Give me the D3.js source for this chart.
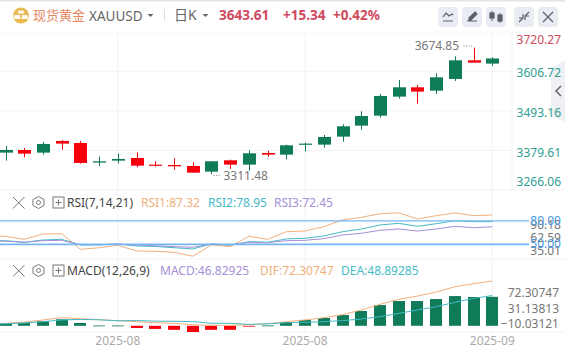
<!DOCTYPE html>
<html>
<head>
<meta charset="utf-8">
<script src="https://d3js.org/d3.v7.min.js"></script>
<style>
html, body { margin: 0; padding: 0; background: #fff; }
text { font-family: "Noto Sans", "Noto Sans CJK SC", sans-serif; }
</style>
</head>
<body>
<div id="chart"></div>
<script>
// first entry of every series is the bar just off the left edge
var opens  = [3370,3372.9,3380.6,3372.9,3406.4,3400.7,3344.2,3349.9,3357.6,3338.4,3337.4,3334.6,3318.3,3350.9,3338.4,3371.9,3367.2,3395.9,3395.9,3418.9,3450.5,3479.3,3533.9,3560.7,3551.1,3584.7,3638.3,3628.8];
var closes = [3375,3380.6,3370.0,3397.8,3398.8,3343.2,3348.0,3354.7,3335.5,3335.5,3333.6,3315.4,3348.0,3338.4,3371.0,3367.2,3394.0,3398.8,3417.9,3448.6,3478.3,3535.8,3560.7,3548.3,3589.5,3638.3,3631.6,3643.61];
var highs  = [3385,3392.1,3386.3,3403.6,3409.3,3406.4,3361.4,3370.0,3373.9,3348.0,3356.6,3345.1,3348.0,3352.8,3379.6,3378.6,3395.9,3401.6,3423.7,3454.4,3491.7,3541.6,3581.8,3567.4,3601.0,3649.8,3674.85,3647.0];
var lows   = [3360,3349.9,3359.5,3367.2,3381.5,3341.3,3334.6,3342.2,3330.7,3332.6,3324.0,3314.4,3311.48,3325.9,3321.2,3361.4,3353.7,3375.8,3387.3,3404.5,3439.0,3473.5,3528.1,3513.8,3541.6,3578.9,3631.6,3622.1];

var rsi1 = [61,60.3,56.5,63.2,63.6,43.8,45.8,48.9,41.6,41.2,40.0,35.01,49.3,47.1,60.3,56.5,66.1,67,72.5,81,84.4,89,90.18,82.3,86.5,90.0,86.5,87.32];
var rsi2 = [55,54.7,52.7,55.6,56.5,49.3,49.3,50.5,48,47.3,45.8,44.2,50.5,48.9,53.4,52.7,56.9,57.8,60.7,66.1,69.6,74.7,76.8,73,76.3,80.1,78.9,78.95];
var rsi3 = [54.5,54,52.7,54.7,55.2,49.6,49.6,50.5,48.9,48.4,47.1,46.3,50.5,49.3,52.7,52.2,54.7,55.2,57.3,62,64.1,67.9,69.6,67,69.6,73,71.2,72.45];

var macd = [2.5,3.2,5,7.3,10.5,4.5,0.5,0.5,-3.5,-5,-6.5,-10.03,-6.5,-6.5,-1,0.5,6.1,9.4,12.6,17.4,23.9,33.5,40,40,43.2,48,46.5,46.83];
var dif  = [3.4,4.0,6.1,9.4,13.1,11.5,9.9,8.3,6.7,5.0,4.0,1.8,0.8,0.8,1.8,3.4,6.7,9.4,13.1,18.0,25.5,34.6,42.7,48,54.5,63.1,68,72.31];
var dea  = [3,3.4,4.5,6.7,9.4,10.4,9.7,8.1,8.45,7.5,7.25,6.8,4.1,4.0,2.3,3.2,5,5.6,6.7,8.3,11,14.7,20.1,25.5,30.9,37.9,44.3,48.89];

var priceTicks = [3720.27,3606.72,3493.16,3379.61,3266.06];
var priceTickShift = [8,1.4,1.9,2.4,-8.5];
var rsiTicks = [90.18,62.59,35.01];
var rsiLevels = [80,50];
var macdTicks = [72.30747,31.13813,-10.03121];
var dateIdx = [7,17,27];
var dateLabels = ["2025-08","2025-08","2025-09"];

var width = 565, height = 352;
var axisX = 512;
var green = "#0f7b58", red = "#f5000c";
var cOrange = "#f0b07c", cTeal = "#45bac4", cPurple = "#a68fd6", cLevel = "#74b6f4";
var cGrid = "#f2f2f5";

var svg = d3.select("#chart").append("svg")
    .attr("width", width).attr("height", height)
    .style("display", "block");

var x = d3.scaleLinear().domain([0, 27]).range([-13.22, 492.3]);
var y = d3.scaleLinear().domain([3266.06, 3720.27]).range([189.8, 31.8]);
var yRsi = d3.scaleLinear().domain([50, 80]).range([244.4, 220.8]);
var yRsiTick = d3.scaleLinear().domain([35.01, 90.18]).range([250.5, 224.5]);
var yMacd = d3.scaleLinear().domain([0, 46.83]).range([325.8, 296.8]);
var yMacdTick = d3.scaleLinear().domain([-10.03121, 72.30747]).range([323.7, 292.7]);

// top edge and header
svg.append("rect").attr("width", width).attr("height", 1.5).attr("fill", "#e4e4e8");
svg.append("line").attr("x1", 0).attr("x2", width).attr("y1", 32).attr("y2", 32).attr("stroke", "#f6f6f8");

// side tab, sits under the axis labels
svg.append("path").attr("d", "M565 60L551 68V116L565 122Z").attr("fill", "#eef0f3");
svg.append("path").attr("d", "M561 86l-5 5 5 5").attr("fill", "none").attr("stroke", "#666").attr("stroke-width", 1.5);

// grid
var grid = svg.append("g").attr("stroke", cGrid).attr("stroke-width", 1);
priceTicks.slice(1, 4).forEach(function(p) {
    grid.append("line").attr("x1", 0).attr("x2", axisX).attr("y1", y(p)).attr("y2", y(p));
});
[y(3266.06), 259, 332].forEach(function(v) {
    grid.append("line").attr("x1", 0).attr("x2", width).attr("y1", v).attr("y2", v);
});
dateIdx.forEach(function(d) {
    grid.append("line").attr("x1", x(d)).attr("x2", x(d)).attr("y1", 32).attr("y2", 332);
});
grid.append("line").attr("x1", axisX).attr("x2", axisX).attr("y1", 32).attr("y2", 190);

// candles
var idx = d3.range(opens.length);
var candles = svg.append("g");
candles.selectAll(".wick").data(idx).enter().append("line")
    .attr("class", "wick")
    .attr("x1", function(i) { return Math.round(x(i)) + 0.5; })
    .attr("x2", function(i) { return Math.round(x(i)) + 0.5; })
    .attr("y1", function(i) { return y(highs[i]); })
    .attr("y2", function(i) { return y(lows[i]); })
    .attr("stroke", function(i) { return closes[i] >= opens[i] ? green : red; });
candles.selectAll(".body").data(idx).enter().append("rect")
    .attr("class", "body")
    .attr("x", function(i) { return Math.round(x(i)) - 6; })
    .attr("width", 13)
    .attr("y", function(i) { return y(Math.max(opens[i], closes[i])); })
    .attr("height", function(i) { return Math.max(1.2, Math.abs(y(opens[i]) - y(closes[i]))); })
    .attr("fill", function(i) { return closes[i] >= opens[i] ? green : red; });

// high / low notes
function note(i, price, anchor, tx, dx1, dx2, dy) {
    svg.append("line")
        .attr("x1", x(i) + dx1).attr("x2", x(i) + dx2)
        .attr("y1", y(price) + dy).attr("y2", y(price) + dy)
        .attr("stroke", "#888").attr("stroke-dasharray", "1 1.5");
    svg.append("text").attr("x", x(i) + tx).attr("y", y(price) + dy + 4)
        .attr("text-anchor", anchor).attr("font-size", 12).attr("fill", "#777")
        .text(price.toFixed(2));
}
note(26, 3674.85, "end", -14.5, -10, -1, -1.5);
note(12, 3311.48, "start", 12, 2, 9, 1.5);

// price axis
var priceAxis = svg.append("g").attr("transform", "translate(561,0)")
    .call(d3.axisLeft(y).tickValues(priceTicks).tickSize(0).tickFormat(d3.format(".2f")));
priceAxis.select(".domain").remove();
priceAxis.selectAll("text")
    .attr("x", 0)
    .attr("font-size", 12)
    .attr("fill", function(d, i) { return i == 0 ? "#cf4a5e" : "#2f9e8f"; })
    .attr("dy", function(d, i) { return (priceTickShift[i] + 4) + "px"; });

// rsi panel
function drawLine(vals, sc, colour) {
    svg.append("path").datum(vals)
        .attr("fill", "none").attr("stroke", colour).attr("stroke-width", 1)
        .attr("d", d3.line().x(function(d, i) { return x(i); }).y(function(d) { return sc(d); }));
}
drawLine(rsi1, yRsi, cOrange);
drawLine(rsi2, yRsi, cTeal);
drawLine(rsi3, yRsi, cPurple);

var rsiAxis = svg.append("g").attr("transform", "translate(561,0)")
    .call(d3.axisLeft(yRsiTick).tickValues(rsiTicks).tickSize(0).tickFormat(d3.format(".2f")));
rsiAxis.select(".domain").remove();
rsiAxis.selectAll("text").attr("x", 0).attr("font-size", 12).attr("fill", "#777").attr("dy", "4px");

rsiLevels.forEach(function(l, k) {
    svg.append("line").attr("x1", 0).attr("x2", 529)
        .attr("y1", yRsi(l)).attr("y2", yRsi(l))
        .attr("stroke", cLevel).attr("stroke-width", k == 0 ? 1.2 : 1.6);
    svg.append("text").attr("x", 561).attr("y", yRsi(l) + 4)
        .attr("text-anchor", "end").attr("font-size", 12).attr("fill", "#4a9be8")
        .text(l.toFixed(2));
});

// macd panel
svg.append("g").selectAll("rect").data(idx).enter().append("rect")
    .attr("x", function(i) { return Math.round(x(i)) - 6; })
    .attr("width", 12)
    .attr("y", function(i) { return macd[i] >= 0 ? yMacd(macd[i]) : yMacd(0); })
    .attr("height", function(i) { return Math.max(0.8, Math.abs(yMacd(macd[i]) - yMacd(0))); })
    .attr("fill", function(i) { return macd[i] >= 0 ? green : red; });
drawLine(dif, yMacd, cOrange);
drawLine(dea, yMacd, cTeal);

var macdAxis = svg.append("g").attr("transform", "translate(559,0)")
    .call(d3.axisLeft(yMacdTick).tickValues(macdTicks).tickSize(0).tickFormat(d3.format(".5f")));
macdAxis.select(".domain").remove();
macdAxis.selectAll("text").attr("x", 0).attr("font-size", 12).attr("fill", "#777").attr("dy", "4px");

// dates
svg.append("g").selectAll("text").data(dateIdx).enter().append("text")
    .attr("x", function(d) { return x(d); })
    .attr("y", 345)
    .attr("text-anchor", "middle").attr("font-size", 12).attr("fill", "#aaa")
    .text(function(d, i) { return dateLabels[i]; });

// header text
function label(tx, ty, txt, size, colour, weight) {
    return svg.append("text").attr("x", tx).attr("y", ty).attr("font-size", size)
        .attr("fill", colour).attr("font-weight", weight || 400).text(txt);
}
svg.append("circle").attr("cx", 21).attr("cy", 15.5).attr("r", 8).attr("fill", "#e9ba52");
svg.append("path").attr("d", "M18.5 10.5h5l1 3h-7zM14.5 15h5.5l.6 4h-7zM22 15h5.5l1 4h-7z").attr("fill", "#fff").attr("opacity", 0.9);
label(33, 20, "现货黄金", 13, "#e5865f");
label(89, 20.5, "XAUUSD", 13.5, "#666");
svg.append("path").attr("d", "M147.5 14h6l-3 3z").attr("fill", "#666");
svg.append("line").attr("x1", 164.5).attr("x2", 164.5).attr("y1", 9).attr("y2", 21).attr("stroke", "#ddd");
label(174, 19.5, "日K", 14, "#666");
svg.append("path").attr("d", "M202.5 14h6l-3 3z").attr("fill", "#666");
label(219, 19.5, "3643.61", 13.5, "#cf4a5e", 700);
label(283, 19.5, "+15.34", 13.5, "#cf4a5e", 700);
label(333, 19.5, "+0.42%", 13.5, "#cf4a5e", 700);

// toolbar buttons
[438, 462, 486, 514, 538].forEach(function(bx) {
    svg.append("rect").attr("x", bx).attr("y", 7).attr("width", 20).attr("height", 20)
        .attr("rx", 4).attr("fill", "#e9ecf2");
});
var ico = svg.append("g").attr("fill", "none").attr("stroke", "#5a6068").attr("stroke-width", 1.2);
ico.append("path").attr("d", "M443 17l3-4 3 3 3-2 1 1M443 21h10");
ico.append("path").attr("d", "M467 21h10M469 18l6-6 2 2-6 6h-2z").attr("fill", "#5a6068");
ico.append("path").attr("d", "M492 11v10M500 13v10").attr("stroke-width", 1);
ico.append("rect").attr("x", 490).attr("y", 13).attr("width", 4).attr("height", 5).attr("fill", "#5a6068");
ico.append("rect").attr("x", 498).attr("y", 15).attr("width", 4).attr("height", 6).attr("fill", "#5a6068");
ico.append("path").attr("d", "M519 22l4-4M529 12l-4 4M523 14v4h-4M525 20v-4h4");
ico.append("path").attr("d", "M543 12l10 10M553 12l-10 10");

// indicator rows
function rowIcons(cy) {
    var g = svg.append("g").attr("fill", "none").attr("stroke", "#777").attr("stroke-width", 1);
    g.append("path").attr("d", "M13 " + (cy - 5.5) + "l11.5 11.5M24.5 " + (cy - 5.5) + "l-11.5 11.5");
    g.append("path").attr("d", "M38.5 " + (cy - 6) + "l5.5 3v6l-5.5 3-5.5-3v-6z");
    g.append("circle").attr("cx", 38.5).attr("cy", cy).attr("r", 2);
    g.append("rect").attr("x", 53).attr("y", cy - 5.5).attr("width", 11).attr("height", 11);
    g.append("path").attr("d", "M55.5 " + cy + "h6M58.5 " + (cy - 3) + "v6");
}
rowIcons(202.5);
rowIcons(270.5);
label(67, 207, "RSI(7,14,21)", 12, "#444");
label(141, 207, "RSI1:87.32", 12, cOrange);
label(208, 207, "RSI2:78.95", 12, cTeal);
label(274, 207, "RSI3:72.45", 12, cPurple);
label(67, 275, "MACD(12,26,9)", 12, "#444");
label(160, 275, "MACD:46.82925", 12, cPurple);
label(260, 275, "DIF:72.30747", 12, cOrange);
label(341, 275, "DEA:48.89285", 12, cTeal);
</script>
</body>
</html>
